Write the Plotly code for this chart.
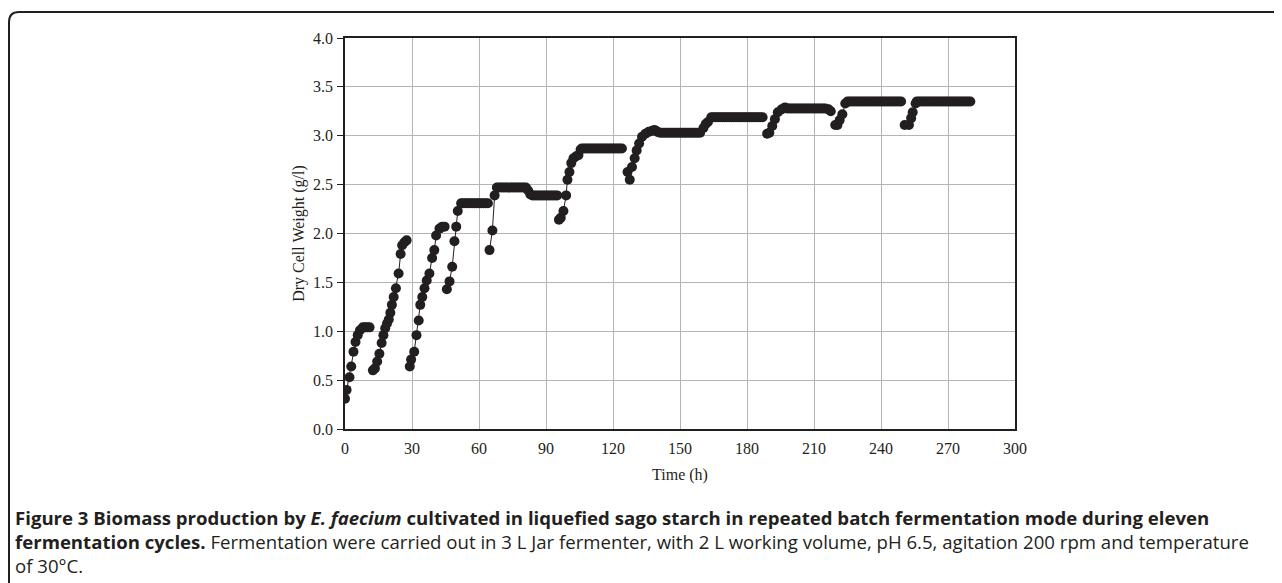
import plotly.graph_objects as go

# ---- data (time in h, dry cell weight in g/l), one list pair per fermentation cycle ----
c1_time = [0, 0.7, 2, 2.8, 3.8, 4.7, 5.7, 6.7, 8, 9, 10, 11]
c1_dcw = [0.31, 0.40, 0.53, 0.64, 0.79, 0.89, 0.96, 1.01, 1.04, 1.04, 1.04, 1.04]

c2_time = [12.5, 13.4, 14.4, 15.4, 16.4, 17.2, 18, 18.8, 19.6, 20.3, 21, 21.8, 22.8, 24, 24.9, 25.6, 26.6, 27.6]
c2_dcw = [0.60, 0.62, 0.69, 0.77, 0.88, 0.96, 1.03, 1.08, 1.12, 1.19, 1.27, 1.35, 1.44, 1.59, 1.79, 1.88, 1.91, 1.93]

c3_time = [29, 29.6, 31, 32, 33, 33.7, 34.6, 35.6, 36.6, 37.8, 39, 40, 40.8, 42.3, 43.5, 44.6]
c3_dcw = [0.64, 0.71, 0.79, 0.96, 1.11, 1.27, 1.35, 1.44, 1.52, 1.59, 1.75, 1.83, 1.98, 2.05, 2.07, 2.07]

c4_time = [45.6, 46.8, 48, 49, 49.8, 50.5, 52, 53, 54, 55, 56, 57, 58, 59, 60, 61, 62, 63, 64]
c4_dcw = [1.43, 1.51, 1.66, 1.92, 2.07, 2.23, 2.31, 2.31, 2.31, 2.31, 2.31, 2.31, 2.31, 2.31, 2.31,
          2.31, 2.31, 2.31, 2.31]

c5_time = [64.7, 66, 67, 68, 69, 70, 71, 72, 73, 74, 75, 76, 77, 78, 79, 80, 81, 82, 83, 84, 85, 86,
           87, 88, 89, 90, 91, 92, 93, 94, 95]
c5_dcw = [1.83, 2.03, 2.39, 2.47, 2.47, 2.47, 2.47, 2.47, 2.47, 2.47, 2.47, 2.47, 2.47, 2.47, 2.47,
          2.47, 2.47, 2.44, 2.40, 2.39, 2.39, 2.39, 2.39, 2.39, 2.39, 2.39, 2.39, 2.39, 2.39, 2.39, 2.39]

c6_time = [95.8, 96.6, 97.8, 99, 99.6, 100.5, 101.3, 102.3, 103.5, 104.5, 105.5, 106, 107, 108, 109,
           110, 111, 112, 113, 114, 115, 116, 117, 118, 119, 120, 121, 122, 123, 124]
c6_dcw = [2.14, 2.16, 2.23, 2.39, 2.55, 2.63, 2.72, 2.77, 2.79, 2.80, 2.86, 2.87, 2.87, 2.87, 2.87,
          2.87, 2.87, 2.87, 2.87, 2.87, 2.87, 2.87, 2.87, 2.87, 2.87, 2.87, 2.87, 2.87, 2.87, 2.87]

c7_time = [126.5, 127.5, 128.5, 129.7, 130.6, 131.7, 133, 134.5, 136, 137.5, 138.6, 140, 141, 142,
           143, 144, 145, 146, 147, 148, 149, 150, 151, 152, 153, 154, 155, 156, 157, 158, 159]
c7_dcw = [2.63, 2.55, 2.68, 2.77, 2.85, 2.92, 2.99, 3.02, 3.04, 3.05, 3.06, 3.04, 3.03, 3.03, 3.03,
          3.03, 3.03, 3.03, 3.03, 3.03, 3.03, 3.03, 3.03, 3.03, 3.03, 3.03, 3.03, 3.03, 3.03, 3.03, 3.03]

c8_time = [160.5, 161.5, 162.5, 164, 165, 166, 167, 168, 169, 170, 171, 172, 173, 174, 175, 176, 177,
           178, 179, 180, 181, 182, 183, 184, 185, 186, 187]
c8_dcw = [3.08, 3.12, 3.14, 3.19, 3.19, 3.19, 3.19, 3.19, 3.19, 3.19, 3.19, 3.19, 3.19, 3.19, 3.19,
          3.19, 3.19, 3.19, 3.19, 3.19, 3.19, 3.19, 3.19, 3.19, 3.19, 3.19, 3.19]

c9_time = [189, 190, 191.3, 192.5, 193.8, 195.5, 197, 198, 199, 200, 201, 202, 203, 204, 205, 206,
           207, 208, 209, 210, 211, 212, 213, 214, 215, 216.5, 217.5]
c9_dcw = [3.02, 3.03, 3.10, 3.17, 3.24, 3.27, 3.29, 3.28, 3.28, 3.28, 3.28, 3.28, 3.28, 3.28, 3.28,
          3.28, 3.28, 3.28, 3.28, 3.28, 3.28, 3.28, 3.28, 3.28, 3.28, 3.27, 3.25]

c10_time = [219.5, 220.5, 221.5, 222.7, 224, 225, 226, 227, 228, 229, 230, 231, 232, 233, 234, 235,
            236, 237, 238, 239, 240, 241, 242, 243, 244, 245, 246, 247, 248, 249]
c10_dcw = [3.11, 3.11, 3.16, 3.22, 3.33, 3.35, 3.35, 3.35, 3.35, 3.35, 3.35, 3.35, 3.35, 3.35, 3.35,
           3.35, 3.35, 3.35, 3.35, 3.35, 3.35, 3.35, 3.35, 3.35, 3.35, 3.35, 3.35, 3.35, 3.35, 3.35]

c11_time = [250.6, 252.5, 253.5, 254.2, 255.5, 256, 257, 258, 259, 260, 261, 262, 263, 264, 265, 266,
            267, 268, 269, 270, 271, 272, 273, 274, 275, 276, 277, 278, 279, 280]
c11_dcw = [3.11, 3.11, 3.18, 3.24, 3.33, 3.35, 3.35, 3.35, 3.35, 3.35, 3.35, 3.35, 3.35, 3.35, 3.35,
           3.35, 3.35, 3.35, 3.35, 3.35, 3.35, 3.35, 3.35, 3.35, 3.35, 3.35, 3.35, 3.35, 3.35, 3.35]

cycles = [
    (c1_time, c1_dcw), (c2_time, c2_dcw), (c3_time, c3_dcw), (c4_time, c4_dcw),
    (c5_time, c5_dcw), (c6_time, c6_dcw), (c7_time, c7_dcw), (c8_time, c8_dcw),
    (c9_time, c9_dcw), (c10_time, c10_dcw), (c11_time, c11_dcw),
]

x_ticks = [0, 30, 60, 90, 120, 150, 180, 210, 240, 270, 300]
y_ticks = [0.0, 0.5, 1.0, 1.5, 2.0, 2.5, 3.0, 3.5, 4.0]

caption_1 = ("<b>Figure 3 Biomass production by <i>E. faecium</i> cultivated in liquefied sago starch "
             "in repeated batch fermentation mode during eleven</b>")
caption_2 = ("<b>fermentation cycles.</b> Fermentation were carried out in 3 L Jar fermenter, with 2 L "
             "working volume, pH 6.5, agitation 200 rpm and temperature")
caption_3 = "of 30°C."

INK = "#231f20"

fig = go.Figure()
for t, v in cycles:
    fig.add_trace(go.Scatter(
        x=t, y=v, mode="lines+markers",
        line=dict(color=INK, width=1),
        marker=dict(color=INK, size=10),
        showlegend=False, hoverinfo="x+y",
    ))

# page offset of the figure (default body margin)
OFF = 8
# plot area in page pixels: x 345..1015, y 38..429
L, R, T, B = 345, 1015, 38, 429
W, H = 1282 - OFF, 583 - OFF


def px(xp):
    return (xp - L) / (R - L)


def py(yp):
    return (B - yp) / (B - T)


serif = "Liberation Serif, Times New Roman, serif"
fig.update_layout(
    width=W, height=H,
    margin=dict(l=L - OFF, r=W - (R - OFF), t=T - OFF, b=H - (B - OFF)),
    paper_bgcolor="white", plot_bgcolor="white",
    font=dict(family=serif, color=INK, size=16),
    xaxis=dict(
        range=[0, 300], tickvals=x_ticks, ticks="", showgrid=True,
        gridcolor="#b4b4b4", gridwidth=1.2, zeroline=False,
        showline=True, mirror=True, linecolor=INK, linewidth=1.5,
        tickfont=dict(family=serif, size=16, color=INK), ticklabelstandoff=4,
        title=dict(text="Time (h)", font=dict(family=serif, size=16, color=INK), standoff=13),
    ),
    yaxis=dict(
        range=[0, 4], tickvals=y_ticks, tickformat=".1f", ticks="outside", ticklen=6,
        tickcolor=INK, tickwidth=1, showgrid=True, gridcolor="#b4b4b4", gridwidth=1.2,
        zeroline=False, showline=True, mirror=True, linecolor=INK, linewidth=1.5,
        tickfont=dict(family=serif, size=16, color=INK), ticklabelstandoff=1,
        title=dict(text="Dry Cell Weight (g/l)", font=dict(family=serif, size=16, color=INK), standoff=4),
    ),
)

# outer rounded frame (right and bottom edges fall outside the picture)
x0, xr = px(9), px(1300)
yt, yb = py(12), py(600)
dx, dy = 10 / (R - L), 10 / (B - T)
fig.add_shape(
    type="path", xref="paper", yref="paper",
    path=f"M {x0},{yb} L {x0},{yt - dy} Q {x0},{yt} {x0 + dx},{yt} L {xr},{yt}",
    line=dict(color=INK, width=2),
)

sans = "Open Sans, Noto Sans, sans-serif"
fig.add_annotation(
    xref="paper", yref="paper", x=px(13), y=py(541), xanchor="left", yanchor="middle",
    text="<br>".join([caption_1, caption_2, caption_3]), showarrow=False, align="left",
    font=dict(family=sans, size=18.6, color=INK),
)

fig.write_html("out.html")
